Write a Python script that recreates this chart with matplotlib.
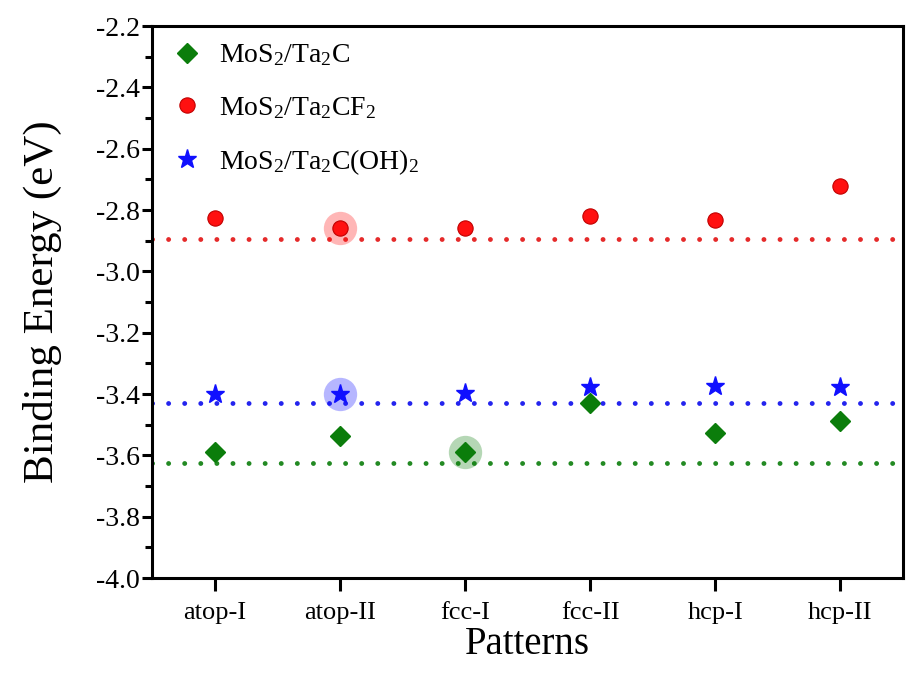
import matplotlib
matplotlib.use("Agg")
import matplotlib.pyplot as plt
import numpy as np

# data
patterns = ['atop-I', 'atop-II', 'fcc-I', 'fcc-II', 'hcp-I', 'hcp-II']
ta2c = [-3.589, -3.537, -3.589, -3.430, -3.527, -3.488]
ta2cf2 = [-2.827, -2.860, -2.860, -2.818, -2.834, -2.723]
ta2coh2 = [-3.400, -3.400, -3.396, -3.376, -3.373, -3.376]
# dotted reference levels
ref_ta2c = -3.625
ref_ta2cf2 = -2.893
ref_ta2coh2 = -3.429
# highlighted (most stable) pattern per system
best_ta2c = 2
best_ta2cf2 = 1
best_ta2coh2 = 1

serif = ['Liberation Serif', 'DejaVu Serif']
plt.rcParams['font.family'] = serif
plt.rcParams['mathtext.fontset'] = 'custom'
plt.rcParams['mathtext.rm'] = 'Liberation Serif'
plt.rcParams['mathtext.it'] = 'Liberation Serif:italic'

fig = plt.figure(figsize=(9.06, 6.74), dpi=100)
ax = fig.add_axes([0.1678, 0.1424, 0.8289, 0.819])

x = np.arange(1, len(patterns) + 1)
green = '#0b7d0b'
red = '#ff1010'
blue = '#1010ff'

# reference lines
dots = (0, (0.01, 3.3))
for lev, c in [(ref_ta2cf2, '#e52a2a'), (ref_ta2coh2, '#2424ee'), (ref_ta2c, '#238a23')]:
    ax.axhline(lev, color=c, lw=3.5, ls=dots, dash_capstyle='round', zorder=1)

# halos
ax.plot(x[best_ta2cf2], ta2cf2[best_ta2cf2], 'o', ms=24, color=red, alpha=0.3, mec='none', zorder=2)
ax.plot(x[best_ta2coh2], ta2coh2[best_ta2coh2], 'o', ms=24, color=blue, alpha=0.3, mec='none', zorder=2)
ax.plot(x[best_ta2c], ta2c[best_ta2c], 'o', ms=24, color=green, alpha=0.3, mec='none', zorder=2)

ax.plot(x, ta2c, 'D', ms=10, color=green, mec=green, ls='none', label=r'MoS$_2$/Ta$_2$C', zorder=3)
ax.plot(x, ta2cf2, 'o', ms=11, color=red, mec='#c00000', mew=0.8, ls='none', label=r'MoS$_2$/Ta$_2$CF$_2$', zorder=3)
ax.plot(x, ta2coh2, '*', ms=14, color=blue, mec=blue, ls='none', label=r'MoS$_2$/Ta$_2$C(OH)$_2$', zorder=3)

ax.set_xlim(0.5, 6.5)
ax.set_ylim(-4.0, -2.2)
ax.set_xticks(x)
ax.set_xticklabels(patterns, fontfamily=serif, fontsize=19)
yt = np.arange(-4.0, -2.19, 0.2)
ax.set_yticks(yt)
ax.set_yticklabels(['%.1f' % v for v in yt], fontfamily=serif, fontsize=20)
ax.set_yticks(np.arange(-3.9, -2.2, 0.2), minor=True)

for s in ax.spines.values():
    s.set_linewidth(2.2)
ax.tick_params(axis='both', which='major', width=2.2, length=7, direction='out')
ax.tick_params(axis='y', which='minor', width=2.2, length=5, direction='out')
ax.tick_params(axis='x', length=9, pad=8)
ax.tick_params(axis='y', pad=2)

ax.set_ylabel('Binding Energy (eV)', fontsize=31, labelpad=24, fontfamily=serif)
ax.set_xlabel('Patterns', fontsize=28, labelpad=2, fontfamily=serif)

ax.legend(loc='upper left', frameon=False, prop={'family': serif, 'size': 20},
          handletextpad=0.5, labelspacing=0.95, borderaxespad=0.2, handlelength=1.3,
          bbox_to_anchor=(0.0, 1.0))

fig.savefig('out.png', dpi=100)
